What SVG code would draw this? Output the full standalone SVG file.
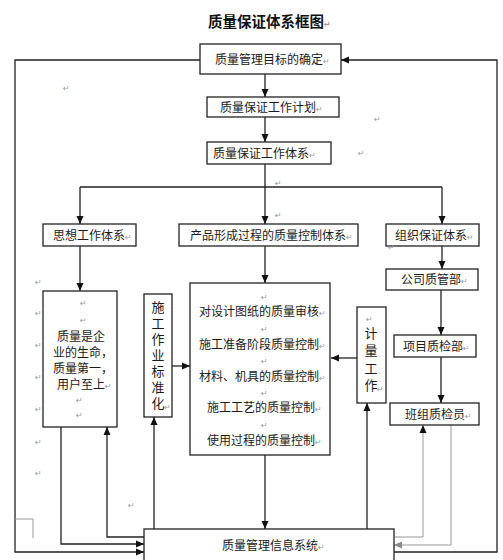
<svg xmlns="http://www.w3.org/2000/svg" width="503" height="560" viewBox="0 0 503 560">
<style>
.bx{fill:#fff;stroke:#222;stroke-width:1.3}
.t{font-family:"Noto Sans CJK SC","Noto Sans",sans-serif;font-size:12px;fill:#1a1a1a}
.v{font-family:"Noto Sans CJK SC","Noto Sans",sans-serif;font-size:13px;fill:#1a1a1a;writing-mode:vertical-rl}
.pm{font-family:"DejaVu Sans",sans-serif;font-size:8px;fill:#999}
.ln{fill:none;stroke:#222;stroke-width:1.3}
.gl{fill:none;stroke:#999;stroke-width:1}
</style>
<defs>
<marker id="ah" viewBox="0 0 8 8" refX="8" refY="4" markerWidth="8" markerHeight="8" markerUnits="userSpaceOnUse" orient="auto">
<path d="M0,0.5 L8,4 L0,7.5 Z" fill="#111"/>
</marker>
<marker id="ahg" viewBox="0 0 8 8" refX="8" refY="4" markerWidth="8" markerHeight="8" markerUnits="userSpaceOnUse" orient="auto">
<path d="M0,0.5 L8,4 L0,7.5 Z" fill="#888"/>
</marker>
</defs>
<rect width="503" height="560" fill="#fff"/>

<text x="208" y="27" style="font-family:'Noto Sans CJK SC',sans-serif;font-size:14.5px;font-weight:700;fill:#111">质量保证体系框图<tspan class="pm">↵</tspan></text>

<g id="connectors">
<path class="ln" d="M265,74 V97" marker-end="url(#ah)"/>
<path class="ln" d="M265,117 V142" marker-end="url(#ah)"/>
<path class="ln" d="M265,164 V224" marker-end="url(#ah)"/>
<path class="ln" d="M80,187 H442"/>
<path class="ln" d="M80,187 V224" marker-end="url(#ah)"/>
<path class="ln" d="M442,187 V224" marker-end="url(#ah)"/>
<path class="ln" d="M265,246 V283" marker-end="url(#ah)"/>
<path class="ln" d="M80,246 V291" marker-end="url(#ah)"/>
<path class="ln" d="M442,246 V269" marker-end="url(#ah)"/>
<path class="ln" d="M441,290 V335" marker-end="url(#ah)"/>
<path class="ln" d="M441,357 V403" marker-end="url(#ah)"/>
<path class="ln" d="M357,358 H331" marker-end="url(#ah)"/>
<path class="ln" d="M172,366 H190" marker-end="url(#ah)"/>
<path class="ln" d="M265,455 V529" marker-end="url(#ah)"/>
<path class="ln" d="M154,529 V417" marker-end="url(#ah)"/>
<path class="ln" d="M367,529 V403" marker-end="url(#ah)"/>
<path class="ln" d="M61,427 V544 H144" marker-end="url(#ah)"/>
<path class="ln" d="M144,537 H107 V427" marker-end="url(#ah)"/>
<path class="ln" d="M200,60 H15 V552 H144" marker-end="url(#ah)"/>
<path class="ln" d="M394,552 H497 V60 H341" marker-end="url(#ah)"/>
<path class="gl" d="M395,537 H423 V425" marker-end="url(#ah)"/>
<path class="gl" d="M451,425 V545 H394" marker-end="url(#ahg)"/>
<path class="gl" d="M15,519 H33 V538"/>
</g>

<g id="n_goal"><rect class="bx" x="200" y="44" width="141" height="30"/>
<text class="t" x="215" y="64">质量管理目标的确定<tspan class="pm">↵</tspan></text></g>
<g id="n_plan"><rect class="bx" x="207" y="97" width="132" height="20"/>
<text class="t" x="220" y="111.5">质量保证工作计划<tspan class="pm">↵</tspan></text></g>
<g id="n_sys"><rect class="bx" x="207" y="142" width="124" height="22"/>
<text class="t" x="213" y="158">质量保证工作体系<tspan class="pm">↵</tspan></text></g>
<g id="n_idea"><rect class="bx" x="43" y="224" width="93" height="22"/>
<text class="t" x="53" y="240">思想工作体系<tspan class="pm">↵</tspan></text></g>
<g id="n_prod"><rect class="bx" x="179" y="224" width="179" height="22"/>
<text class="t" x="190" y="240">产品形成过程的质量控制体系<tspan class="pm">↵</tspan></text></g>
<g id="n_org"><rect class="bx" x="386" y="224" width="93" height="22"/>
<text class="t" x="395" y="240">组织保证体系<tspan class="pm">↵</tspan></text></g>
<g id="n_company"><rect class="bx" x="386" y="269" width="92" height="21"/>
<text class="t" x="401" y="284">公司质管部<tspan class="pm">↵</tspan></text></g>
<g id="n_project"><rect class="bx" x="394" y="335" width="82" height="22"/>
<text class="t" x="403" y="350.5">项目质检部<tspan class="pm">↵</tspan></text></g>
<g id="n_team"><rect class="bx" x="390" y="403" width="89" height="22"/>
<text class="t" x="405" y="418.5">班组质检员<tspan class="pm">↵</tspan></text></g>
<g id="n_measure"><rect class="bx" x="357" y="307" width="29" height="96"/>
<text class="pm" x="366" y="322">↵</text>
<text class="v" x="371" y="326.5" style="letter-spacing:4.3px">计量工作</text>
<text class="pm" x="377" y="392">↵</text></g>
<g id="n_std"><rect class="bx" x="144" y="294" width="28" height="123"/>
<text class="v" x="158" y="300.5" style="letter-spacing:3px">施工作业标准化</text>
<text class="pm" x="164" y="410">↵</text></g>
<g id="n_life"><rect class="bx" x="43" y="291" width="74" height="136"/>
<text class="pm" x="80" y="306">↵</text>
<text class="pm" x="80" y="323">↵</text>
<text class="t"><tspan x="57" y="341">质量是企</tspan><tspan x="53" y="357">业的生命，</tspan><tspan x="53" y="373">质量第一，</tspan><tspan x="57" y="389">用户至上</tspan><tspan class="pm">↵</tspan></text>
<text class="pm" x="76" y="403">↵</text>
<text class="pm" x="76" y="418">↵</text></g>
<g id="n_control"><rect class="bx" x="190" y="283" width="140" height="172"/>
<text class="pm" x="261" y="300">↵</text>
<text class="t" x="199" y="316">对设计图纸的质量审核<tspan class="pm">↵</tspan></text>
<text class="pm" x="261" y="332">↵</text>
<text class="t" x="199" y="349">施工准备阶段质量控制<tspan class="pm">↵</tspan></text>
<text class="pm" x="261" y="364">↵</text>
<text class="t" x="199" y="381">材料、机具的质量控制<tspan class="pm">↵</tspan></text>
<text class="pm" x="261" y="396">↵</text>
<text class="t" x="207" y="412">施工工艺的质量控制<tspan class="pm">↵</tspan></text>
<text class="pm" x="261" y="428">↵</text>
<text class="t" x="207" y="445">使用过程的质量控制<tspan class="pm">↵</tspan></text></g>
<g id="n_info"><rect class="bx" x="144" y="529" width="250" height="40"/>
<text class="t" x="222" y="550">质量管理信息系统<tspan class="pm">↵</tspan></text></g>

<g id="marks">
<text class="pm" x="63" y="91">↵</text>
<text class="pm" x="374" y="122">↵</text>
<text class="pm" x="358" y="156">↵</text>
<text class="pm" x="275" y="186">↵</text>
<text class="pm" x="275" y="218">↵</text>
<text class="pm" x="388" y="250">↵</text>
<text class="pm" x="35" y="285">↵</text>
<text class="pm" x="35" y="316">↵</text>
<text class="pm" x="35" y="348">↵</text>
<text class="pm" x="35" y="380">↵</text>
<text class="pm" x="35" y="412">↵</text>
<text class="pm" x="35" y="445">↵</text>
<text class="pm" x="35" y="476">↵</text>
<text class="pm" x="128" y="508">↵</text>
</g>
</svg>
